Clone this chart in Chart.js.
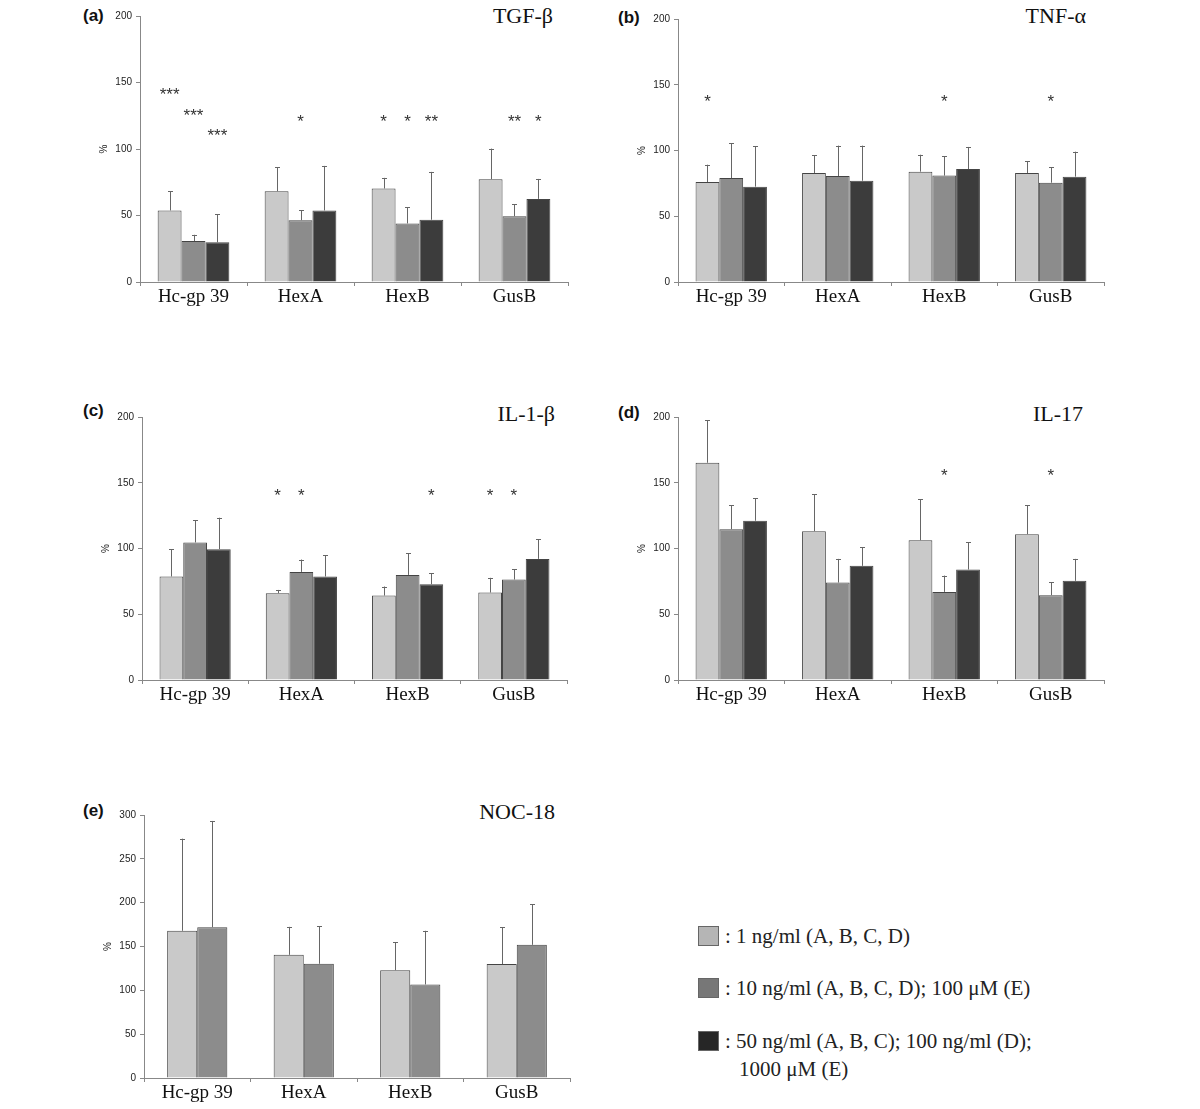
<!DOCTYPE html>
<html>
<head>
<meta charset="utf-8">
<script src="https://cdn.jsdelivr.net/npm/chart.js@4.4.0/dist/chart.umd.min.js"></script>
<style>
  body { margin: 0; background: #fff; }
  #page { position: relative; width: 1200px; height: 1109px; overflow: hidden; background: #fff; }
  canvas { position: absolute; }
  .tag { position: absolute; font: bold 17px "Liberation Sans", Arial, sans-serif; color: #111; line-height: 1; }
  .name { position: absolute; width: 200px; text-align: right; font: 22px "Liberation Serif", "Times New Roman", serif; color: #111; line-height: 1; }
  .key { position: absolute; left: 698px; font: 21px "Liberation Serif", "Times New Roman", serif; color: #222; line-height: 1; white-space: nowrap; }
  .key span.box { display: inline-block; width: 19px; height: 18px; border: 1px solid #666; vertical-align: -3px; margin-right: 6px; }
</style>
</head>
<body>
<div id="page">
  <div class="tag" style="left:83px;top:7px">(a)</div>
  <div class="tag" style="left:618px;top:9px">(b)</div>
  <div class="tag" style="left:83px;top:402px">(c)</div>
  <div class="tag" style="left:618px;top:404px">(d)</div>
  <div class="tag" style="left:83px;top:802px">(e)</div>

  <div class="name" style="left:353px;top:5px">TGF-β</div>
  <div class="name" style="left:886px;top:5px">TNF-α</div>
  <div class="name" style="left:355px;top:403px">IL-1-β</div>
  <div class="name" style="left:883px;top:403px">IL-17</div>
  <div class="name" style="left:355px;top:801px">NOC-18</div>

  <div class="key" style="top:926px"><span class="box" style="background:#b5b5b5"></span>: 1 ng/ml (A, B, C, D)</div>
  <div class="key" style="top:978px"><span class="box" style="background:#777"></span>: 10 ng/ml (A, B, C, D); 100 μM (E)</div>
  <div class="key" style="top:1031px"><span class="box" style="background:#262626"></span>: 50 ng/ml (A, B, C); 100 ng/ml (D);</div>
  <div class="key" style="top:1059px;left:739px">1000 μM (E)</div>
</div>

<script>
// Data (means and SD above the bar, in %)
const categories = ['Hc-gp 39', 'HexA', 'HexB', 'GusB'];
const seriesColors = ['#c9c9c9', '#8c8c8c', '#3c3c3c'];

const tgfMean = [[53.8, 68.3, 70.3, 77.3], [30.8, 46.5, 44.0, 49.5], [29.8, 53.8, 46.8, 62.5]];
const tgfSd   = [[14.5, 18.0, 8.0, 23.0], [4.7, 7.5, 12.3, 9.0], [21.2, 33.5, 36.0, 15.0]];
const tgfStars = [[0, 0, '***', 144], [1, 0, '***', 128.5], [2, 0, '***', 113], [1, 1, '*', 124],
                  [0, 2, '*', 124], [1, 2, '*', 124], [2, 2, '**', 124], [1, 3, '**', 124], [2, 3, '*', 124]];

const tnfMean = [[76.0, 82.9, 83.9, 82.9], [79.0, 80.6, 80.9, 75.5], [72.5, 77.0, 85.9, 80.1]];
const tnfSd   = [[13.2, 13.4, 12.9, 9.1], [26.7, 23.1, 14.7, 11.7], [30.9, 26.7, 16.8, 19.0]];
const tnfStars = [[0, 0, '*', 140], [1, 2, '*', 140], [1, 3, '*', 140]];

const il1Mean = [[78.7, 66.0, 64.2, 66.5], [104.6, 82.2, 79.9, 76.4], [99.5, 78.7, 72.8, 92.1]];
const il1Sd   = [[20.8, 2.5, 6.9, 11.2], [16.7, 9.4, 16.5, 7.9], [23.9, 16.2, 8.2, 14.8]];
const il1Stars = [[0, 1, '*', 143.4], [1, 1, '*', 143.4], [2, 2, '*', 143.4], [0, 3, '*', 143.4], [1, 3, '*', 143.4]];

const il17Mean = [[165.2, 113.2, 106.3, 110.9], [114.7, 74.1, 67.0, 64.5], [121.1, 86.8, 84.0, 75.4]];
const il17Sd   = [[32.5, 28.2, 31.3, 22.1], [18.0, 18.0, 12.4, 9.9], [17.0, 14.0, 20.8, 16.7]];
const il17Stars = [[1, 2, '*', 158.6], [1, 3, '*', 158.6]];

const nocMean = [[167.9, 140.5, 123.0, 129.9], [172.0, 130.3, 106.7, 151.9]];
const nocSd   = [[105.1, 31.9, 32.0, 42.1], [121.2, 42.9, 61.2, 46.3]];
const nocStars = [];

// Plot area of each panel on the page
const panels = [
    { mean: tgfMean, sd: tgfSd, stars: tgfStars, max: 200, box: [140, 16, 568, 282], catPct: 0.67 },
    { mean: tnfMean, sd: tnfSd, stars: tnfStars, max: 200, box: [678, 19, 1104, 282], catPct: 0.67 },
    { mean: il1Mean, sd: il1Sd, stars: il1Stars, max: 200, box: [142, 417, 567, 680], catPct: 0.67 },
    { mean: il17Mean, sd: il17Sd, stars: il17Stars, max: 200, box: [678, 417, 1104, 680], catPct: 0.67 },
    { mean: nocMean, sd: nocSd, stars: nocStars, max: 300, box: [144, 815, 570, 1078], catPct: 0.565 }
];

// Error bars (upper only) and significance stars
const extrasPlugin = {
    id: 'extras',
    afterDatasetsDraw(chart, args, opts) {
        const ctx = chart.ctx;
        const y = chart.scales.y;
        ctx.save();
        ctx.strokeStyle = '#666';
        ctx.lineWidth = 1;
        chart.data.datasets.forEach((ds, i) => {
            chart.getDatasetMeta(i).data.forEach((bar, j) => {
                const x = Math.round(bar.x) + 0.5;
                const top = y.getPixelForValue(ds.data[j] + ds.sd[j]);
                ctx.beginPath();
                ctx.moveTo(x, bar.y);
                ctx.lineTo(x, top);
                ctx.moveTo(x - 2.5, Math.round(top) + 0.5);
                ctx.lineTo(x + 2.5, Math.round(top) + 0.5);
                ctx.stroke();
            });
        });
        ctx.fillStyle = '#333';
        ctx.font = '17px "Liberation Sans", Arial, sans-serif';
        ctx.textAlign = 'center';
        ctx.textBaseline = 'alphabetic';
        opts.stars.forEach(([si, ci, txt, level]) => {
            const bar = chart.getDatasetMeta(si).data[ci];
            ctx.fillText(txt, bar.x, y.getPixelForValue(level) + 9.5);
        });
        ctx.restore();
    }
};

function drawPanel(p) {
    const [l, t, r, b] = p.box;
    const canvas = document.createElement('canvas');
    canvas.width = r - l + 60;
    canvas.height = b - t + 50;
    canvas.style.left = (l - 50) + 'px';
    canvas.style.top = (t - 10) + 'px';
    document.getElementById('page').appendChild(canvas);

    new Chart(canvas.getContext('2d'), {
        type: 'bar',
        data: {
            labels: categories,
            datasets: p.mean.map((vals, i) => ({
                data: vals,
                sd: p.sd[i],
                backgroundColor: seriesColors[i],
                borderColor: '#444',
                borderWidth: 1,
                barPercentage: 1,
                categoryPercentage: p.catPct
            }))
        },
        options: {
            responsive: false,
            animation: false,
            events: [],
            layout: { padding: { top: 10, right: 10, left: 0, bottom: 0 } },
            plugins: {
                legend: { display: false },
                tooltip: { enabled: false },
                extras: { stars: p.stars }
            },
            scales: {
                x: {
                    afterFit: (scale) => { scale.height = 40; },
                    grid: { display: true, drawOnChartArea: false, drawTicks: true, tickLength: 4, color: '#888', offset: true },
                    border: { color: '#888' },
                    ticks: {
                        autoSkip: false,
                        maxRotation: 0,
                        padding: 0,
                        color: '#111',
                        font: { family: '"Liberation Serif", "Times New Roman", serif', size: 19 }
                    }
                },
                y: {
                    min: 0,
                    max: p.max,
                    afterFit: (scale) => { scale.width = 50; },
                    grid: { display: true, drawOnChartArea: false, drawTicks: true, tickLength: 4, color: '#888' },
                    border: { color: '#888' },
                    ticks: {
                        stepSize: 50,
                        padding: 4,
                        color: '#222',
                        font: { family: '"Liberation Sans", Arial, sans-serif', size: 10 }
                    },
                    title: {
                        display: true,
                        text: '%',
                        color: '#222',
                        padding: { top: 8, bottom: 0 },
                        font: { family: '"Liberation Sans", Arial, sans-serif', size: 10 }
                    }
                }
            }
        },
        plugins: [extrasPlugin]
    });
}

panels.forEach(drawPanel);
</script>
</body>
</html>
